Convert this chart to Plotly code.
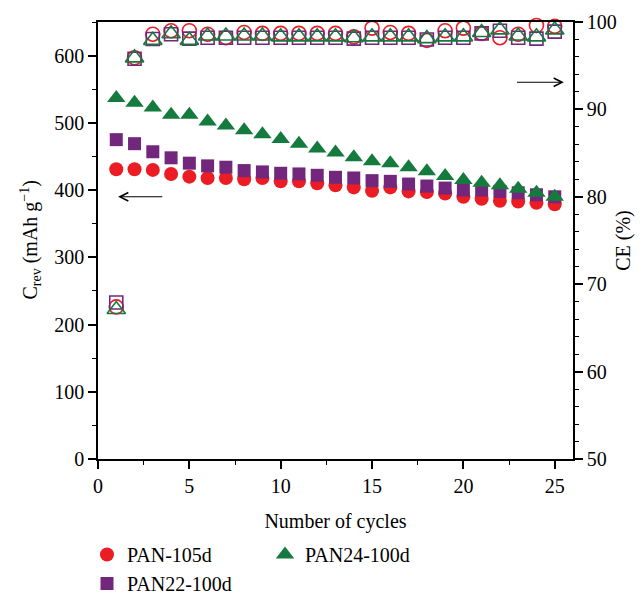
import plotly.graph_objects as go

# Cycle index
cycles = list(range(1, 26))

# Reversible capacity, mAh/g (left axis)
crev_pan105 = [431, 431, 430, 424, 420, 418, 418, 416, 418, 413, 413, 410, 407, 404, 399,
               404, 398, 397, 395, 390, 387, 384, 383, 381, 379]
crev_pan22 = [475, 469, 457, 448, 440, 436, 434, 429, 427, 425, 424, 422, 419, 418, 414,
              413, 409, 406, 403, 400, 400, 398, 396, 393, 390]
crev_pan24 = [537, 530, 523, 512, 512, 502, 496, 489, 483, 476, 469, 462, 456, 449, 443,
              440, 434, 428, 421, 415, 411, 407, 402, 396, 390]

# Coulombic efficiency, % (right axis)
ce_pan105 = [67.4, 95.9, 98.6, 99.0, 99.0, 98.6, 98.2, 98.8, 98.7, 98.7, 98.7, 98.7, 98.7,
             98.3, 99.3, 98.8, 98.7, 97.9, 99.0, 99.3, 98.7, 98.2, 98.6, 99.6, 99.5]
ce_pan22 = [67.9, 95.8, 98.05, 98.6, 98.1, 98.2, 98.2, 98.2, 98.2, 98.2, 98.2, 98.2, 98.2,
            98.1, 98.2, 98.2, 98.2, 98.0, 98.2, 98.2, 98.7, 99.0, 98.2, 98.1, 98.9]
ce_pan24 = [67.1, 95.9, 97.9, 98.65, 97.9, 98.4, 98.4, 98.4, 98.4, 98.3, 98.3, 98.3, 98.3,
            98.2, 98.3, 98.3, 98.3, 98.1, 98.3, 98.3, 98.8, 99.1, 98.4, 98.3, 99.1]

names = ["PAN-105d", "PAN22-100d", "PAN24-100d"]

RED = "#EC1C24"
PURPLE = "#73277C"
GREEN = "#147A3D"
FONT = "Liberation Serif"

series = [
    (names[0], crev_pan105, ce_pan105, "circle", 14, RED, "legend"),
    (names[1], crev_pan22, ce_pan22, "square", 13, PURPLE, "legend"),
    (names[2], crev_pan24, ce_pan24, "triangle-up", 16, GREEN, "legend2"),
]

fig = go.Figure()

# Coulombic efficiency: hollow markers on the right axis
for name, _, ce, sym, size, col, _lg in series:
    fig.add_trace(go.Scatter(
        x=cycles, y=ce, yaxis="y2", mode="markers", name=name, showlegend=False,
        cliponaxis=False,
        marker=dict(symbol=sym + "-open", size=size, color=col,
                    line=dict(width=1.6, color=col)),
    ))

# Reversible capacity: filled markers on the left axis
for name, crev, _, sym, size, col, lg in series:
    fig.add_trace(go.Scatter(
        x=cycles, y=crev, mode="markers", name=name, legend=lg,
        cliponaxis=False,
        marker=dict(symbol=sym, size=size, color=col, line=dict(width=0)),
    ))

axis_common = dict(
    showgrid=False, zeroline=False, showline=True, linecolor="black", linewidth=1.5,
    ticks="outside", ticklen=8, tickwidth=1.5, tickcolor="black",
    tickfont=dict(family=FONT, size=20, color="black"),
)

legend_common = dict(
    xref="container", yref="container", xanchor="left", yanchor="top", orientation="v",
    bgcolor="rgba(0,0,0,0)", font=dict(family=FONT, size=20), tracegroupgap=0,
)

arrow_style = dict(text="", showarrow=True, arrowhead=5, arrowsize=1.5, arrowwidth=1.1,
                   arrowcolor="black")

fig.update_layout(
    width=642, height=594,
    margin=dict(l=98, r=69, t=22, b=135, autoexpand=False),
    plot_bgcolor="white", paper_bgcolor="white",
    font=dict(family=FONT, size=20, color="black"),
    xaxis=dict(
        **axis_common, range=[0, 26], tick0=0, dtick=5, mirror=True,
        minor=dict(ticks="outside", ticklen=4, tickwidth=1.2, dtick=2.5, tickcolor="black"),
        title=dict(text="Number of cycles", standoff=18,
                   font=dict(family=FONT, size=20)),
    ),
    yaxis=dict(
        **axis_common, range=[0, 650], tick0=0, dtick=100,
        minor=dict(ticks="outside", ticklen=4, tickwidth=1.2, dtick=50, tickcolor="black"),
    ),
    yaxis2=dict(
        **axis_common, range=[50, 100], tick0=50, dtick=10, overlaying="y", side="right",
        anchor="x",
        minor=dict(ticks="outside", ticklen=4, tickwidth=1.2, dtick=2, tickcolor="black"),
        title=dict(text="CE (%)", standoff=0, font=dict(family=FONT, size=20)),
    ),
    legend=dict(**legend_common, x=87 / 642, y=1 - 535 / 594),
    legend2=dict(**legend_common, x=265 / 642, y=1 - 535 / 594),
    annotations=[
        # left-axis title
        dict(text="C<sub>rev</sub> (mAh g<sup>−1</sup>)", textangle=-90,
             xref="paper", yref="paper", x=-0.143, y=0.5, xanchor="center", yanchor="middle",
             showarrow=False, font=dict(family=FONT, size=20, color="black")),
        # arrows pointing each series group to its axis
        dict(x=1.1, y=390, ax=3.6, ay=390, xref="x", yref="y", axref="x", ayref="y",
             **arrow_style),
        dict(x=25.5, y=93.1, ax=22.85, ay=93.1, xref="x", yref="y2", axref="x", ayref="y2",
             **arrow_style),
    ],
)

fig.write_html("out.html")
